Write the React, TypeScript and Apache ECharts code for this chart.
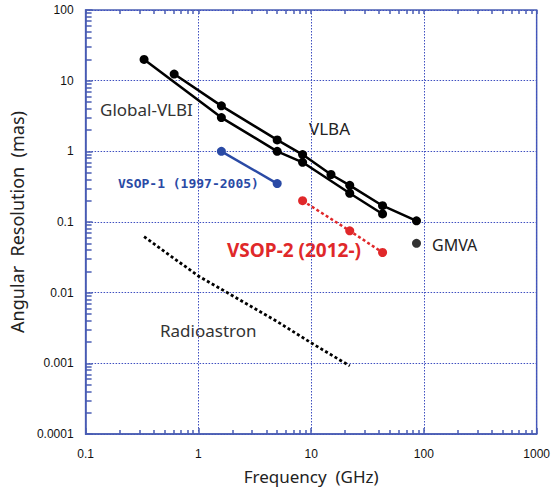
import React, { useEffect, useRef } from "react";
import * as echarts from "echarts";

// ---- data ----
const vlbaFreq = [0.61, 1.6, 5, 8.4, 15, 22, 43, 86];
const vlbaRes = [12.4, 4.4, 1.45, 0.9, 0.47, 0.33, 0.17, 0.104];
const globalFreq = [0.33, 1.6, 5, 8.4, 22, 43];
const globalRes = [20, 3.0, 1.0, 0.7, 0.255, 0.13];
const gmvaFreq = [86];
const gmvaRes = [0.05];
const vsop1Freq = [1.6, 5];
const vsop1Res = [1.0, 0.35];
const vsop2Freq = [8.4, 22, 43];
const vsop2Res = [0.2, 0.075, 0.037];
const radioFreq = [0.33, 1.0, 1.6, 5, 10, 22];
const radioRes = [0.062, 0.0172, 0.0112, 0.0039, 0.00195, 0.00092];

const xTickValues = [0.1, 1, 10, 100, 1000];
const xTickLabels = ["0.1", "1", "10", "100", "1000"];
const yTickValues = [0.0001, 0.001, 0.01, 0.1, 1, 10, 100];
const yTickLabels = ["0.0001", "0.001", "0.01", "0.1", "1", "10", "100"];

const X_MIN = 0.1, X_MAX = 1000, Y_MIN = 0.0001, Y_MAX = 100;

const pairs = (xs: number[], ys: number[]) => xs.map((x, i) => [x, ys[i]]);

function minorValues(min: number, max: number) {
  const out: number[] = [];
  for (let d = min; d < max * 0.999; d *= 10) {
    for (let k = 2; k <= 9; k++) out.push(+(d * k).toPrecision(6));
  }
  return out;
}

const labelFor = (vals: number[], labels: string[]) => (v: number) => {
  for (let i = 0; i < vals.length; i++) {
    if (Math.abs(Math.log10(v) - Math.log10(vals[i])) < 1e-6) return labels[i];
  }
  return "";
};

const AXIS_BLUE = "#4a5db3";
const GRID_BLUE = "#3f4fc0";

export default function App() {
  const ref = useRef<HTMLDivElement>(null);
  useEffect(() => {
    if (!ref.current) return;
    const chart = echarts.init(ref.current, null, { renderer: "svg" });
    const xm = minorValues(X_MIN, X_MAX);
    const ym = minorValues(Y_MIN, Y_MAX);
    const minorAxis = (min: number, max: number, position: string, values: number[], length: number) => ({
      type: "log",
      logBase: 10,
      min,
      max,
      position,
      axisLine: { show: false },
      axisLabel: { show: false },
      splitLine: { show: false },
      axisTick: {
        show: true,
        inside: true,
        length,
        customValues: values,
        lineStyle: { color: AXIS_BLUE, width: 1.5 },
      },
    });
    const blackLine = (name: string, xs: number[], ys: number[]) => ({
      name,
      type: "line",
      data: pairs(xs, ys),
      symbol: "circle",
      symbolSize: 9,
      itemStyle: { color: "#000" },
      lineStyle: { color: "#000", width: 2.5 },
      z: 5,
    });
    chart.setOption({
      animation: false,
      backgroundColor: "#fff",
      grid: {
        left: 83,
        right: 14,
        top: 10,
        bottom: 57,
        show: true,
        borderColor: AXIS_BLUE,
        borderWidth: 1.5,
      },
      xAxis: [
        {
          type: "log",
          logBase: 10,
          min: X_MIN,
          max: X_MAX,
          position: "bottom",
          name: "Frequency  (GHz)",
          nameLocation: "middle",
          nameGap: 34,
          nameTextStyle: { fontFamily: "Noto Sans", fontSize: 17, color: "#222" },
          axisLine: { show: true, lineStyle: { color: AXIS_BLUE, width: 1.5 } },
          axisTick: { show: true, inside: true, length: 6, lineStyle: { color: AXIS_BLUE, width: 1.5 } },
          axisLabel: {
            margin: 14,
            fontFamily: "Liberation Sans",
            fontSize: 12,
            color: "#111",
            formatter: labelFor(xTickValues, xTickLabels),
          },
          splitLine: { show: true, lineStyle: { color: GRID_BLUE, type: [1.5, 1.5], width: 1 } },
        },
        minorAxis(X_MIN, X_MAX, "bottom", xm, 4),
        minorAxis(X_MIN, X_MAX, "top", xm.concat(xTickValues), 4),
      ],
      yAxis: [
        {
          type: "log",
          logBase: 10,
          min: Y_MIN,
          max: Y_MAX,
          position: "left",
          name: "Angular  Resolution  (mas)",
          nameLocation: "middle",
          nameGap: 52,
          nameTextStyle: { fontFamily: "Noto Sans", fontSize: 18, color: "#222" },
          axisLine: { show: true, lineStyle: { color: AXIS_BLUE, width: 1.5 } },
          axisTick: { show: true, inside: true, length: 7, lineStyle: { color: AXIS_BLUE, width: 1.5 } },
          axisLabel: {
            margin: 12,
            fontFamily: "Liberation Sans",
            fontSize: 12,
            color: "#111",
            formatter: labelFor(yTickValues, yTickLabels),
          },
          splitLine: { show: true, lineStyle: { color: GRID_BLUE, type: [1.5, 1.5], width: 1 } },
        },
        minorAxis(Y_MIN, Y_MAX, "left", ym, 6),
      ],
      series: [
        blackLine("VLBA", vlbaFreq, vlbaRes),
        blackLine("Global-VLBI", globalFreq, globalRes),
        {
          name: "GMVA",
          type: "scatter",
          data: pairs(gmvaFreq, gmvaRes),
          symbol: "circle",
          symbolSize: 9,
          itemStyle: { color: "#000" },
          z: 5,
        },
        {
          name: "VSOP-1",
          type: "line",
          data: pairs(vsop1Freq, vsop1Res),
          symbol: "circle",
          symbolSize: 9,
          itemStyle: { color: "#2a4aa5" },
          lineStyle: { color: "#2a4aa5", width: 2.5 },
          z: 5,
        },
        {
          name: "VSOP-2",
          type: "line",
          data: pairs(vsop2Freq, vsop2Res),
          symbol: "circle",
          symbolSize: 9,
          itemStyle: { color: "#e0282a" },
          lineStyle: { color: "#e0282a", width: 2.5, type: [3, 2.5] },
          z: 5,
        },
        {
          name: "Radioastron",
          type: "line",
          data: pairs(radioFreq, radioRes),
          symbol: "none",
          lineStyle: { color: "#000", width: 2.8, type: [3, 2.5] },
          z: 5,
        },
      ],
      graphic: [
        { type: "text", left: 100, top: 101, style: { text: "Global-VLBI", fontFamily: "Noto Sans", fontSize: 17, fill: "#333" } },
        { type: "text", left: 309, top: 120, style: { text: "VLBA", fontFamily: "Noto Sans", fontSize: 17, fill: "#222" } },
        { type: "text", left: 118, top: 177, style: { text: "VSOP-1 (1997-2005)", fontFamily: "DejaVu Sans Mono", fontWeight: "bold", fontSize: 13, fill: "#2a4aa5" } },
        { type: "text", left: 227, top: 240, style: { text: "VSOP-2 (2012-)", fontFamily: "Noto Sans", fontWeight: "bold", fontSize: 19, fill: "#e0282a" } },
        { type: "text", left: 432, top: 237, style: { text: "GMVA", fontFamily: "Noto Sans", fontSize: 16, fill: "#222" } },
        { type: "text", left: 160, top: 322, style: { text: "Radioastron", fontFamily: "Noto Sans", fontSize: 17, fill: "#333" } },
      ],
    });
    return () => chart.dispose();
  }, []);
  return <div ref={ref} style={{ position: "fixed", left: 0, top: 0, width: 553, height: 491 }} />;
}
